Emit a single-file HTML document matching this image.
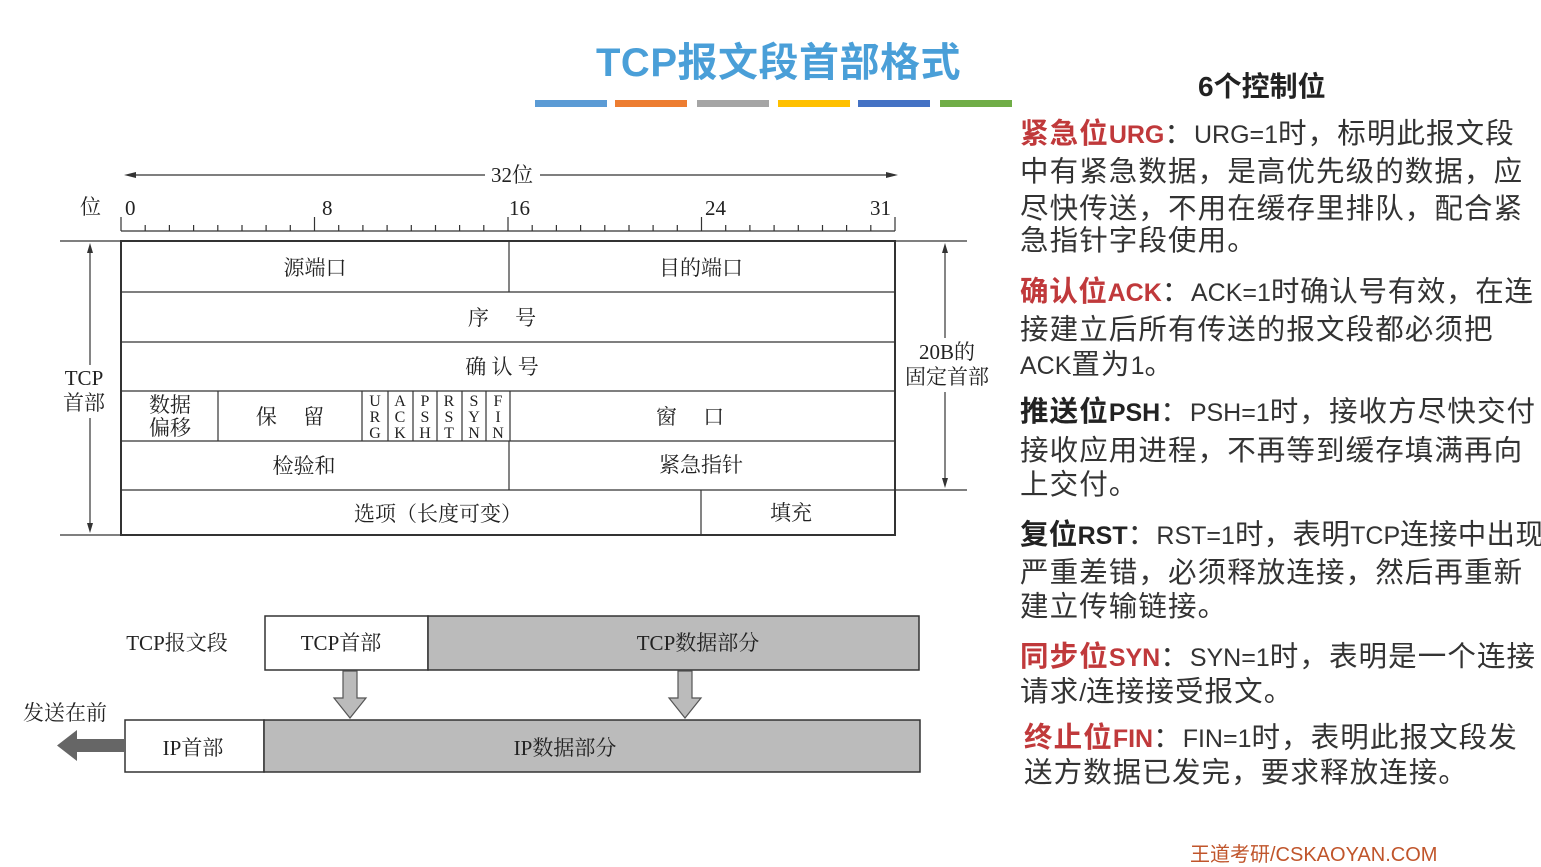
<!DOCTYPE html>
<html><head><meta charset="utf-8"><style>
body{margin:0;width:1541px;height:849px;background:#fff;position:relative;overflow:hidden;font-family:"Liberation Sans","Noto Sans CJK SC",sans-serif}
.t{position:absolute;white-space:nowrap;font-size:28.5px;color:#333;line-height:34px;letter-spacing:1.1px}
.l{font-size:25px;letter-spacing:0}
.r{color:#c0393b;font-weight:bold}
.b{font-weight:bold;color:#222}
</style></head><body>
<div style="position:absolute;left:596px;top:30px;font-size:40px;font-weight:bold;color:#4a9fd8;letter-spacing:0.5px">TCP报文段首部格式</div>
<div style="position:absolute;top:100px;left:535px;width:72px;height:7px;background:#5b9bd5"></div>
<div style="position:absolute;top:100px;left:615px;width:72px;height:7px;background:#ed7d31"></div>
<div style="position:absolute;top:100px;left:697px;width:72px;height:7px;background:#a5a5a5"></div>
<div style="position:absolute;top:100px;left:778px;width:72px;height:7px;background:#ffc000"></div>
<div style="position:absolute;top:100px;left:858px;width:72px;height:7px;background:#4472c4"></div>
<div style="position:absolute;top:100px;left:940px;width:72px;height:7px;background:#70ad47"></div>

<svg width="1541" height="849" style="position:absolute;left:0;top:0" font-family="Liberation Serif,Noto Serif CJK SC,serif" font-size="21" fill="#222">
<g stroke="#333" stroke-width="1.2" fill="none">
<line x1="128" y1="175" x2="485" y2="175"/><line x1="540" y1="175" x2="895" y2="175"/>
<path d="M121,231H895"/>
<path d="M121,231v-14 M145.2,231v-6 M169.4,231v-6 M193.6,231v-6 M217.8,231v-6 M242,231v-6 M266.1,231v-6 M290.3,231v-6 M314.5,231v-14 M338.7,231v-6 M362.9,231v-6 M387.1,231v-6 M411.3,231v-6 M435.5,231v-6 M459.6,231v-6 M483.8,231v-6 M508,231v-14 M532.2,231v-6 M556.4,231v-6 M580.6,231v-6 M604.8,231v-6 M629,231v-6 M653.1,231v-6 M677.3,231v-6 M701.5,231v-14 M725.7,231v-6 M749.9,231v-6 M774.1,231v-6 M798.3,231v-6 M822.5,231v-6 M846.6,231v-6 M870.8,231v-6 M895,231v-14"/>
<rect x="121" y="241" width="774" height="294" stroke-width="2"/>
<path d="M121,292H895 M121,342H895 M121,391H895 M121,441H895 M121,490H895 M509,241V292 M509,441V490 M701,490V535 M218,391V441 M362,391V441 M388,391V441 M413,391V441 M437,391V441 M462,391V441 M486,391V441 M510,391V441"/>
<path d="M60,241H121 M60,535H121 M895,241H967 M895,490H967"/>
<line x1="90" y1="250" x2="90" y2="365"/><line x1="90" y1="418" x2="90" y2="526"/>
<line x1="945" y1="250" x2="945" y2="338"/><line x1="945" y1="392" x2="945" y2="482"/>
</g>
<g fill="#333">
<path d="M124,175l12,-3v6z"/><path d="M898,175l-12,-3v6z"/>
<path d="M90,243l-3,10h6z"/><path d="M90,533l-3,-10h6z"/>
<path d="M945,243l-3,10h6z"/><path d="M945,488l-3,-10h6z"/>
</g>
<text x="512" y="182" text-anchor="middle">32位</text>
<text x="80" y="214">位</text>
<text x="125" y="215">0</text><text x="322" y="215">8</text><text x="509" y="215">16</text><text x="705" y="215">24</text><text x="870" y="215">31</text>
<text x="315" y="275" text-anchor="middle">源端口</text>
<text x="701" y="275" text-anchor="middle">目的端口</text>
<text x="502" y="325" text-anchor="middle">序　 号</text>
<text x="502" y="374" text-anchor="middle">确  认  号</text>
<text x="170" y="412" text-anchor="middle">数据</text><text x="170" y="435" text-anchor="middle">偏移</text>
<text x="290" y="424" text-anchor="middle">保　 留</text>
<g font-size="16" text-anchor="middle">
<text x="375" y="406">U</text><text x="375" y="422">R</text><text x="375" y="438">G</text>
<text x="400" y="406">A</text><text x="400" y="422">C</text><text x="400" y="438">K</text>
<text x="425" y="406">P</text><text x="425" y="422">S</text><text x="425" y="438">H</text>
<text x="449" y="406">R</text><text x="449" y="422">S</text><text x="449" y="438">T</text>
<text x="474" y="406">S</text><text x="474" y="422">Y</text><text x="474" y="438">N</text>
<text x="498" y="406">F</text><text x="498" y="422">I</text><text x="498" y="438">N</text>
</g>
<text x="690" y="424" text-anchor="middle">窗　 口</text>
<text x="304" y="473" text-anchor="middle">检验和</text>
<text x="701" y="472" text-anchor="middle">紧急指针</text>
<text x="438" y="521" text-anchor="middle">选项（长度可变）</text>
<text x="791" y="520" text-anchor="middle">填充</text>
<text x="84" y="385" text-anchor="middle">TCP</text><text x="84" y="410" text-anchor="middle">首部</text>
<text x="947" y="359" text-anchor="middle">20B的</text><text x="947" y="384" text-anchor="middle">固定首部</text>
<rect x="265" y="616" width="163" height="54" fill="#fff" stroke="#333" stroke-width="1.5"/>
<rect x="428" y="616" width="491" height="54" fill="#bbb" stroke="#333" stroke-width="1.5"/>
<rect x="125" y="720" width="139" height="52" fill="#fff" stroke="#333" stroke-width="1.5"/>
<rect x="264" y="720" width="656" height="52" fill="#bbb" stroke="#333" stroke-width="1.5"/>
<path d="M343,671h14v27h9l-16,20l-16,-20h9z" fill="#bbb" stroke="#555" stroke-width="1.2"/>
<path d="M678,671h14v27h9l-16,20l-16,-20h9z" fill="#bbb" stroke="#555" stroke-width="1.2"/>
<path d="M125,739v13h-48v9l-20,-15.5l20,-15.5v9z" fill="#666"/>
<text x="177" y="650" text-anchor="middle">TCP报文段</text>
<text x="341" y="650" text-anchor="middle">TCP首部</text>
<text x="698" y="650" text-anchor="middle">TCP数据部分</text>
<text x="65" y="720" text-anchor="middle">发送在前</text>
<text x="193" y="755" text-anchor="middle">IP首部</text>
<text x="565" y="755" text-anchor="middle">IP数据部分</text>
</svg>

<div class="t b" style="left:1198px;top:70px;font-size:28px;letter-spacing:0">6个控制位</div>
<div class="t" style="left:1020px;top:117px"><span class="r">紧急位<span class="l">URG</span></span>：<span class="l">URG=1</span>时，标明此报文段</div>
<div class="t" style="left:1020px;top:155px">中有紧急数据，是高优先级的数据，应</div>
<div class="t" style="left:1020px;top:192px">尽快传送，不用在缓存里排队，配合紧</div>
<div class="t" style="left:1020px;top:224px">急指针字段使用。</div>
<div class="t" style="left:1020px;top:275px;letter-spacing:0.7px"><span class="r">确认位<span class="l">ACK</span></span>：<span class="l">ACK=1</span>时确认号有效，在连</div>
<div class="t" style="left:1020px;top:313px">接建立后所有传送的报文段都必须把</div>
<div class="t" style="left:1020px;top:348px"><span class="l">ACK</span>置为<span class="l">1</span>。</div>
<div class="t" style="left:1020px;top:395px"><span class="b">推送位<span class="l">PSH</span></span>：<span class="l">PSH=1</span>时，接收方尽快交付</div>
<div class="t" style="left:1020px;top:434px">接收应用进程，不再等到缓存填满再向</div>
<div class="t" style="left:1020px;top:468px">上交付。</div>
<div class="t" style="left:1020px;top:518px;letter-spacing:0.3px"><span class="b">复位<span class="l">RST</span></span>：<span class="l">RST=1</span>时，表明<span class="l">TCP</span>连接中出现</div>
<div class="t" style="left:1020px;top:556px">严重差错，必须释放连接，然后再重新</div>
<div class="t" style="left:1020px;top:590px">建立传输链接。</div>
<div class="t" style="left:1020px;top:640px"><span class="r">同步位<span class="l">SYN</span></span>：<span class="l">SYN=1</span>时，表明是一个连接</div>
<div class="t" style="left:1020px;top:675px">请求<span class="l">/</span>连接接受报文。</div>
<div class="t" style="left:1024px;top:721px"><span class="r">终止位<span class="l">FIN</span></span>：<span class="l">FIN=1</span>时，表明此报文段发</div>
<div class="t" style="left:1024px;top:756px">送方数据已发完，要求释放连接。</div>
<div style="position:absolute;left:1190px;top:838px;font-size:20px;color:#c0552b">王道考研/CSKAOYAN.COM</div>
</body></html>
